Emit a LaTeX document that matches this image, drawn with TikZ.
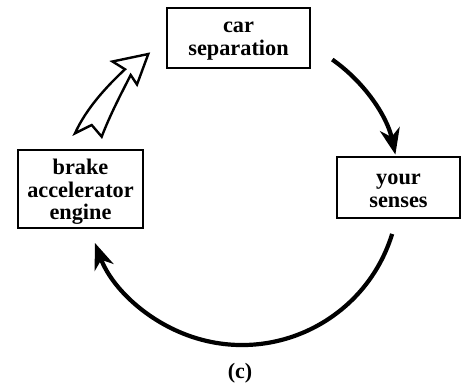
\documentclass[tikz,border=0pt]{standalone}
\usepackage{fontspec}
\setmainfont{Liberation Serif}
\usetikzlibrary{arrows.meta,calc}
\begin{document}
\begin{tikzpicture}[x=1pt,y=1pt,
  box/.style={draw, line width=2.7pt, inner sep=0pt},
  box text/.style={align=center, inner sep=0pt,
    font=\fontsize{22.3}{22.7}\selectfont\bfseries},
  loop arrow/.style={line width=4.2pt,
    -{Stealth[length=26pt,width=20pt,inset=8pt]}},
  hollow arrow/.style={draw, line width=2.4pt, fill=white, line join=miter}]
\useasboundingbox (0,0) rectangle (464,388);

% the three boxes and their texts
\node[box, minimum width=143pt, minimum height=60pt] (sep) at (238.5,350) {};
\node[box text] (sepT) at ($(sep)+(0,-3)$) {car\\separation};
\node[box, minimum width=123pt, minimum height=61pt] (sen) at (398.5,200.5) {};
\node[box text] (senT) at ($(sen)+(0,-3)$) {your\\senses};
\node[box, minimum width=125pt, minimum height=78pt] (brk) at (80.5,199) {};
\node[box text] (brkT) at ($(brk)+(0,-3)$) {brake\\accelerator\\engine};

% circle on which the loop arrows run
\coordinate (c) at (242,200);
\coordinate (s1) at ($(c)+(54.9:157)$);
\coordinate (s2) at ($(c)+(-17:157)$);

% car separation -> your senses
\draw[loop arrow] (s1) arc[start angle=54.9, end angle=12.3, radius=157];
% your senses -> brake/accelerator/engine
\draw[loop arrow] (s2) arc[start angle=-17, end angle=-159.5, radius=157];

% hollow arrow: brake/accelerator/engine -> car separation
\path[hollow arrow]
  (148.3,334) coordinate (tip)
  -- (112.5,326.5)
  -- (125,318.7)
  .. controls (106,301) and (86,279) .. (75,254.7)
  -- (91.7,263)
  -- (101.7,251.3)
  .. controls (110,273) and (121,294) .. (130.7,313)
  -- (137,303.5)
  -- cycle;

% caption
\node[font=\fontsize{22}{24}\selectfont\bfseries] (cap) at (240,15) {(c)};
\end{tikzpicture}
\end{document}
